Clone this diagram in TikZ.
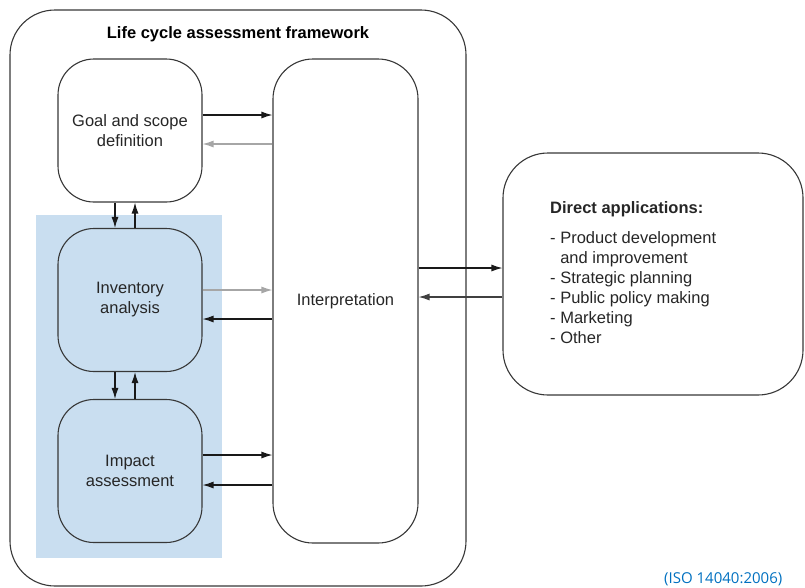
\documentclass[tikz,border=0pt]{standalone}
\usepackage{fontspec}
\setmainfont{Liberation Sans}
\newfontfamily\isofont{Open Sans}
\usetikzlibrary{arrows.meta}
\usetikzlibrary{positioning}
\definecolor{lcablue}{RGB}{201,222,240}
\definecolor{linegray}{RGB}{55,55,55}
\definecolor{isoblue}{RGB}{0,112,192}

\begin{document}
\begin{tikzpicture}[x=1pt,y=-1pt]
  \tikzset{stage/.style = {shape=rectangle,draw=linegray,line width=1.1pt,rounded corners=36pt,
      minimum width=144pt,minimum height=143pt,align=center,text=black!85,
      font=\fontsize{16.5}{20}\selectfont}}
  \tikzset{edge/.style = {->,> = {Latex[length=11pt,width=7pt]},line width=1.2pt,black!90}}
  \tikzset{backedge/.style = {edge,gray!70}}

  \useasboundingbox (0,0) rectangle (805,587);
  \fill[lcablue] (36,215) rectangle (222,558);

  \node[stage, minimum width=456pt, minimum height=576pt, rounded corners=45pt] (frame) at (238,298) {};
  \node[font=\bfseries\fontsize{16.5}{20}\selectfont] (title) at (238,34) {Life cycle assessment framework};

  \node[stage] (goal) at (130,130.5) {Goal and scope\\definition};
  \node[stage] (inventory) at (130,300) {Inventory\\analysis};
  \node[stage] (impact) at (130,471) {Impact\\assessment};
  \node[stage, minimum width=145pt, minimum height=484pt, rounded corners=40pt] (interp) at (345.5,301) {Interpretation};

  \node[stage, minimum width=300pt, minimum height=242pt, rounded corners=45pt] (direct) at (653,274) {};
  \node[anchor=north west, align=left, inner sep=0pt, text=black!85,
        font=\fontsize{16.5}{20}\selectfont] (uses) at (550,201)
  {\textbf{Direct applications:}\\[10pt]
   - Product development\\
   \phantom{-} and improvement\\
   - Strategic planning\\
   - Public policy making\\
   - Marketing\\
   - Other};

  \draw[edge] ([yshift=15.5pt]goal.east) to ([yshift=15.5pt]goal.east -| interp.west);
  \draw[backedge] ([yshift=-13.5pt]goal.east -| interp.west) to ([yshift=-13.5pt]goal.east);

  \draw[edge] ([xshift=-15pt]goal.south) to ([xshift=-15pt]inventory.north);
  \draw[edge] ([xshift=5pt]inventory.north) to ([xshift=5pt]goal.south);

  \draw[backedge] ([yshift=10pt]inventory.east) to ([yshift=10pt]inventory.east -| interp.west);
  \draw[edge] ([yshift=-19pt]inventory.east -| interp.west) to ([yshift=-19pt]inventory.east);

  \draw[edge] ([xshift=-15pt]inventory.south) to ([xshift=-15pt]impact.north);
  \draw[edge] ([xshift=5pt]impact.north) to ([xshift=5pt]inventory.south);

  \draw[edge] ([yshift=16pt]impact.east) to ([yshift=16pt]impact.east -| interp.west);
  \draw[edge] ([yshift=-14pt]impact.east -| interp.west) to ([yshift=-14pt]impact.east);

  \draw[edge] ([yshift=6pt]direct.west -| interp.east) to ([yshift=6pt]direct.west);
  \draw[edge, black!75] ([yshift=-23pt]direct.west) to ([yshift=-23pt]direct.west -| interp.east);

  \node[anchor=base west, inner sep=0pt, text=isoblue, font=\isofont\fontsize{15}{18}\selectfont] (iso) at (664,583) {(ISO 14040:2006)};
\end{tikzpicture}
\end{document}
